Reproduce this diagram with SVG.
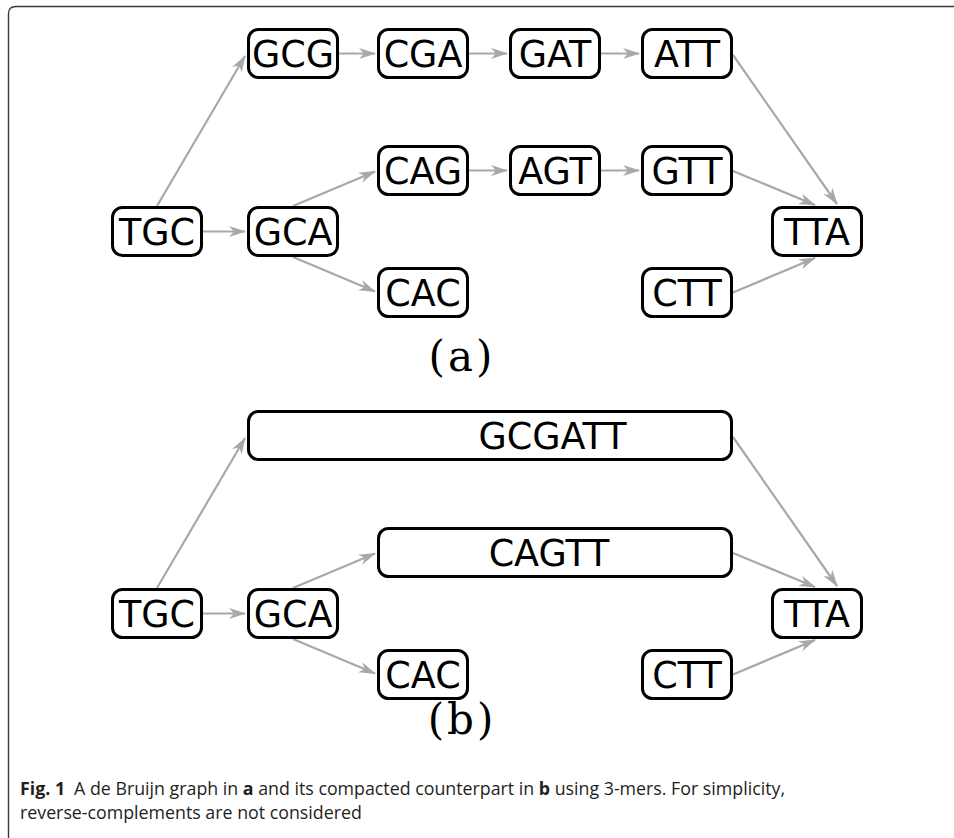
<svg xmlns="http://www.w3.org/2000/svg" width="954" height="838" viewBox="0 0 954 838">
<style>
.n rect{fill:#fff;stroke:#000;stroke-width:3}
.n text{font-family:"DejaVu Sans",sans-serif;font-size:36.5px;text-anchor:middle;fill:#000}
.e line{stroke:#a8a8a8;stroke-width:2.2;marker-end:url(#ah)}
.lab{font-family:"DejaVu Serif","Liberation Serif",serif;font-size:42px;letter-spacing:3px;text-anchor:middle;fill:#000}
.cap{font-family:"Open Sans",sans-serif;font-size:17.8px;fill:#231f20}
</style>
<defs>
<marker id="ah" markerUnits="userSpaceOnUse" viewBox="-17 -7 18 14" refX="0" refY="0" markerWidth="18" markerHeight="14" orient="auto">
<path d="M1,0 L-16,-5.5 L-11,0 L-16,5.5 Z" fill="#a8a8a8"/>
</marker>
</defs>
<path d="M8.5,838 V14 Q8.5,6.5 16,6.5 H954" fill="none" stroke="#3a3a3a" stroke-width="1.4"/>
<g id="edges" class="e">
<line x1="203" y1="231.5" x2="245" y2="231.5"/>
<line x1="157" y1="206" x2="245" y2="56"/>
<line x1="339" y1="53.5" x2="375" y2="53.5"/>
<line x1="469" y1="53.5" x2="507" y2="53.5"/>
<line x1="601" y1="53.5" x2="639" y2="53.5"/>
<line x1="293" y1="206" x2="375" y2="171.5"/>
<line x1="469" y1="170.5" x2="507" y2="170.5"/>
<line x1="601" y1="170.5" x2="639" y2="170.5"/>
<line x1="293" y1="257" x2="375" y2="291.5"/>
<line x1="733" y1="55" x2="837" y2="204"/>
<line x1="733" y1="171" x2="815" y2="205"/>
<line x1="733" y1="292.5" x2="815" y2="258"/>
<line x1="203" y1="613.5" x2="245" y2="613.5"/>
<line x1="157" y1="588" x2="245" y2="438"/>
<line x1="293" y1="588" x2="375" y2="553.5"/>
<line x1="293" y1="639" x2="375" y2="673.5"/>
<line x1="733" y1="437" x2="837" y2="586"/>
<line x1="733" y1="553" x2="815" y2="587"/>
<line x1="733" y1="674.5" x2="815" y2="640"/>
</g>
<g id="a-TGC" class="n"><rect x="112.5" y="207.5" width="89" height="48" rx="10"/><text x="157" y="244.5">TGC</text></g>
<g id="a-GCA" class="n"><rect x="248.5" y="207.5" width="89" height="48" rx="10"/><text x="293" y="244.5">GCA</text></g>
<g id="a-GCG" class="n"><rect x="248.5" y="29.5" width="89" height="48" rx="10"/><text x="293" y="66.5">GCG</text></g>
<g id="a-CGA" class="n"><rect x="378.5" y="29.5" width="89" height="48" rx="10"/><text x="423" y="66.5">CGA</text></g>
<g id="a-GAT" class="n"><rect x="510.5" y="29.5" width="89" height="48" rx="10"/><text x="555" y="66.5">GAT</text></g>
<g id="a-ATT" class="n"><rect x="642.5" y="29.5" width="89" height="48" rx="10"/><text x="687" y="66.5">ATT</text></g>
<g id="a-CAG" class="n"><rect x="378.5" y="146.5" width="89" height="48" rx="10"/><text x="423" y="183.5">CAG</text></g>
<g id="a-AGT" class="n"><rect x="510.5" y="146.5" width="89" height="48" rx="10"/><text x="555" y="183.5">AGT</text></g>
<g id="a-GTT" class="n"><rect x="642.5" y="146.5" width="89" height="48" rx="10"/><text x="687" y="183.5">GTT</text></g>
<g id="a-CAC" class="n"><rect x="378.5" y="268.5" width="89" height="48" rx="10"/><text x="423" y="305.5">CAC</text></g>
<g id="a-CTT" class="n"><rect x="642.5" y="268.5" width="89" height="48" rx="10"/><text x="687" y="305.5">CTT</text></g>
<g id="a-TTA" class="n"><rect x="772.5" y="207.5" width="89" height="48" rx="10"/><text x="817" y="244.5">TTA</text></g>
<text class="lab" x="462" y="371">(a)</text>
<g id="b-TGC" class="n"><rect x="112.5" y="589.5" width="89" height="48" rx="10"/><text x="157" y="626.5">TGC</text></g>
<g id="b-GCA" class="n"><rect x="248.5" y="589.5" width="89" height="48" rx="10"/><text x="293" y="626.5">GCA</text></g>
<g id="b-GCGATT" class="n"><rect x="248.5" y="411.5" width="483" height="48" rx="10"/><text x="552.5" y="448.5">GCGATT</text></g>
<g id="b-CAGTT" class="n"><rect x="378.5" y="528.5" width="353" height="48" rx="10"/><text x="549" y="565.5">CAGTT</text></g>
<g id="b-CAC" class="n"><rect x="378.5" y="650.5" width="89" height="48" rx="10"/><text x="423" y="687.5">CAC</text></g>
<g id="b-CTT" class="n"><rect x="642.5" y="650.5" width="89" height="48" rx="10"/><text x="687" y="687.5">CTT</text></g>
<g id="b-TTA" class="n"><rect x="772.5" y="589.5" width="89" height="48" rx="10"/><text x="817" y="626.5">TTA</text></g>
<text class="lab" x="462" y="734">(b)</text>
<text class="cap" x="20" y="795"><tspan font-weight="bold">Fig. 1</tspan><tspan dx="9">A de Bruijn graph in </tspan><tspan font-weight="bold">a</tspan> and its compacted counterpart in <tspan font-weight="bold">b</tspan> using 3-mers. For simplicity,</text>
<text class="cap" x="20" y="819">reverse-complements are not considered</text>
</svg>
